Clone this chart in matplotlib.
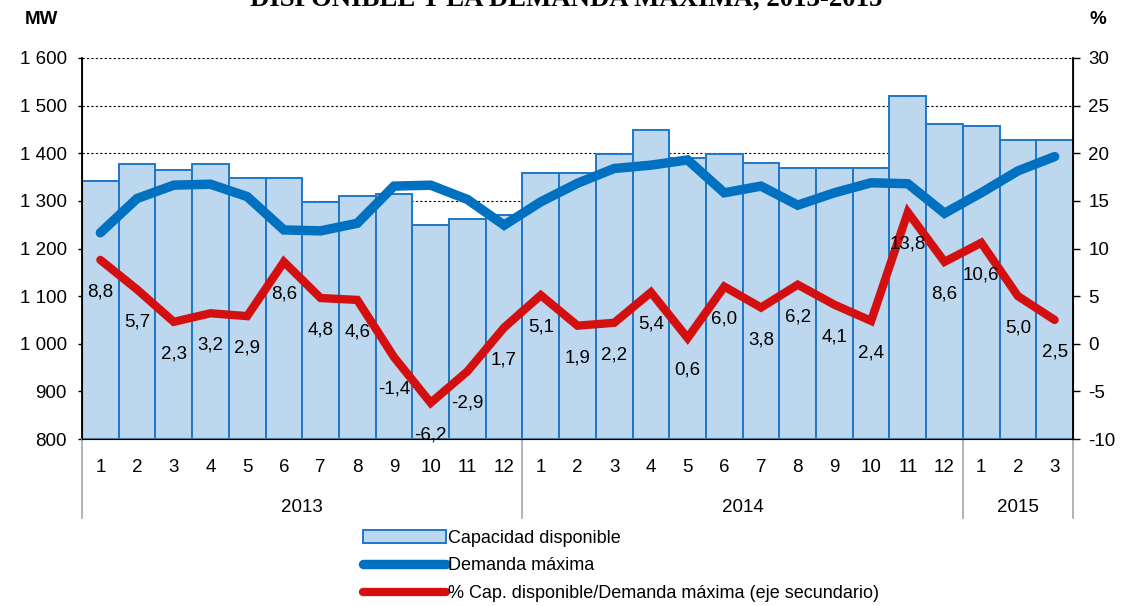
import matplotlib
matplotlib.use("Agg")
import matplotlib.pyplot as plt
from matplotlib.patches import Patch
from matplotlib.lines import Line2D
import numpy as np

plt.rcParams['font.family'] = ['Liberation Sans', 'DejaVu Sans']

# =========================
# Datos
# =========================
meses = ['1', '2', '3', '4', '5', '6', '7', '8', '9', '10', '11', '12',
         '1', '2', '3', '4', '5', '6', '7', '8', '9', '10', '11', '12',
         '1', '2', '3']
anios = ['2013', '2014', '2015']
meses_por_anio = [12, 12, 3]

capacidad = [1342, 1377, 1365, 1377, 1347, 1347, 1298, 1311, 1314, 1249, 1261, 1270,
             1358, 1358, 1398, 1449, 1389, 1398, 1379, 1370, 1370, 1370, 1521, 1461,
             1457, 1428, 1428]
demanda = [1233, 1305, 1333, 1335, 1309, 1239, 1237, 1253, 1331, 1333, 1303, 1249,
           1298, 1337, 1368, 1375, 1386, 1317, 1331, 1291, 1317, 1338, 1336, 1274,
           1317, 1363, 1393]
porcentaje = [8.8, 5.7, 2.3, 3.2, 2.9, 8.6, 4.8, 4.6, -1.4, -6.2, -2.9, 1.7,
              5.1, 1.9, 2.2, 5.4, 0.6, 6.0, 3.8, 6.2, 4.1, 2.4, 13.8, 8.6,
              10.6, 5.0, 2.5]

color_barra = '#BDD7EE'
color_borde = '#1F77C8'
color_demanda = '#0070C0'
color_pct = '#D40F0F'

# =========================
# Figura
# =========================
fig = plt.figure(figsize=(11.23, 6.06), dpi=100)
ax = fig.add_axes([82 / 1123, 1 - 439 / 606, (1073 - 82) / 1123, (439 - 58) / 606])
ax2 = ax.twinx()

x = np.arange(len(capacidad))
ax.bar(x, capacidad, width=1.0, color=color_barra, edgecolor=color_borde,
       linewidth=1.4, zorder=2)
ax.plot(x, demanda, color=color_demanda, linewidth=6.8, solid_capstyle='round',
        solid_joinstyle='miter', zorder=3)

ax.set_ylim(800, 1600)
ax.set_xlim(-0.5, len(capacidad) - 0.5)
ax.set_yticks(range(800, 1601, 100))
ax.set_yticklabels([f"{v:,}".replace(',', ' ') for v in range(800, 1601, 100)],
                   fontsize=13.5)
ax.yaxis.grid(True, color='black', linestyle=(0, (2, 2)), linewidth=0.8, zorder=0)
ax.set_axisbelow(True)
ax.set_xticks([])
ax.tick_params(axis='y', length=3, width=1, pad=8)

for s in ['top']:
    ax.spines[s].set_visible(False)
    ax2.spines[s].set_visible(False)
ax.spines['left'].set_linewidth(1.3)
ax.spines['bottom'].set_color('#5B7E9C')
ax.spines['bottom'].set_linewidth(1.5)
ax2.spines['right'].set_linewidth(1.3)

ax2.plot(x, porcentaje, color=color_pct, linewidth=6.0, solid_capstyle='round',
         solid_joinstyle='miter', zorder=4)
ax2.set_ylim(-10, 30)
ax2.set_yticks(range(-10, 31, 5))
ax2.set_yticklabels([str(v) for v in range(-10, 31, 5)], fontsize=13.5)
ax2.tick_params(axis='y', length=5, width=1, pad=6)

# etiquetas del porcentaje
for xi, v in zip(x, porcentaje):
    ax2.annotate(f"{v:.1f}".replace('.', ','), (xi, v), xytext=(0, -17),
                 textcoords='offset points', ha='center', va='top',
                 fontsize=13.5, zorder=5)

# eje de categorias (meses y anios)
for xi, m in zip(x, meses):
    ax.text(xi, -0.075, m, transform=ax.get_xaxis_transform(), ha='center',
            va='center', fontsize=13.5)

inicio = 0
lineas_sep = [-0.5]
for anio, n in zip(anios, meses_por_anio):
    centro = inicio + (n - 1) / 2
    ax.text(centro, -0.18, anio, transform=ax.get_xaxis_transform(),
            ha='center', va='center', fontsize=13.5)
    inicio += n
    lineas_sep.append(inicio - 0.5)
for xs in lineas_sep:
    ax.plot([xs, xs], [0, -0.208], transform=ax.get_xaxis_transform(),
            color='#A6A6A6', linewidth=1.2, clip_on=False)

# titulos
fig.text(0.504, 1 - 6 / 606, "DISPONIBLE Y LA DEMANDA MÁXIMA, 2013-2015",
         ha='center', va='baseline', fontsize=19.3, fontweight='bold',
         family='Liberation Serif')
fig.text(25 / 1123, 1 - 20 / 606, "MW", ha='left', va='center',
         fontsize=13.5, fontweight='bold')
fig.text(1098 / 1123, 1 - 20 / 606, "%", ha='center', va='center',
         fontsize=13.5, fontweight='bold')

# leyenda
handles = [
    Patch(facecolor=color_barra, edgecolor=color_borde, linewidth=1.4),
    Line2D([0], [0], color=color_demanda, linewidth=6.8, solid_capstyle='round'),
    Line2D([0], [0], color=color_pct, linewidth=6.0, solid_capstyle='round'),
]
etiquetas = ['Capacidad disponible', 'Demanda máxima',
             '% Cap. disponible/Demanda máxima (eje secundario)']
fig.legend(handles, etiquetas, loc='upper left',
           bbox_to_anchor=(354 / 1123, 1 - 521 / 606), frameon=False,
           fontsize=13, handlelength=4.6, handletextpad=0.1,
           labelspacing=0.58, borderpad=0)

plt.savefig("out.png", dpi=100)
